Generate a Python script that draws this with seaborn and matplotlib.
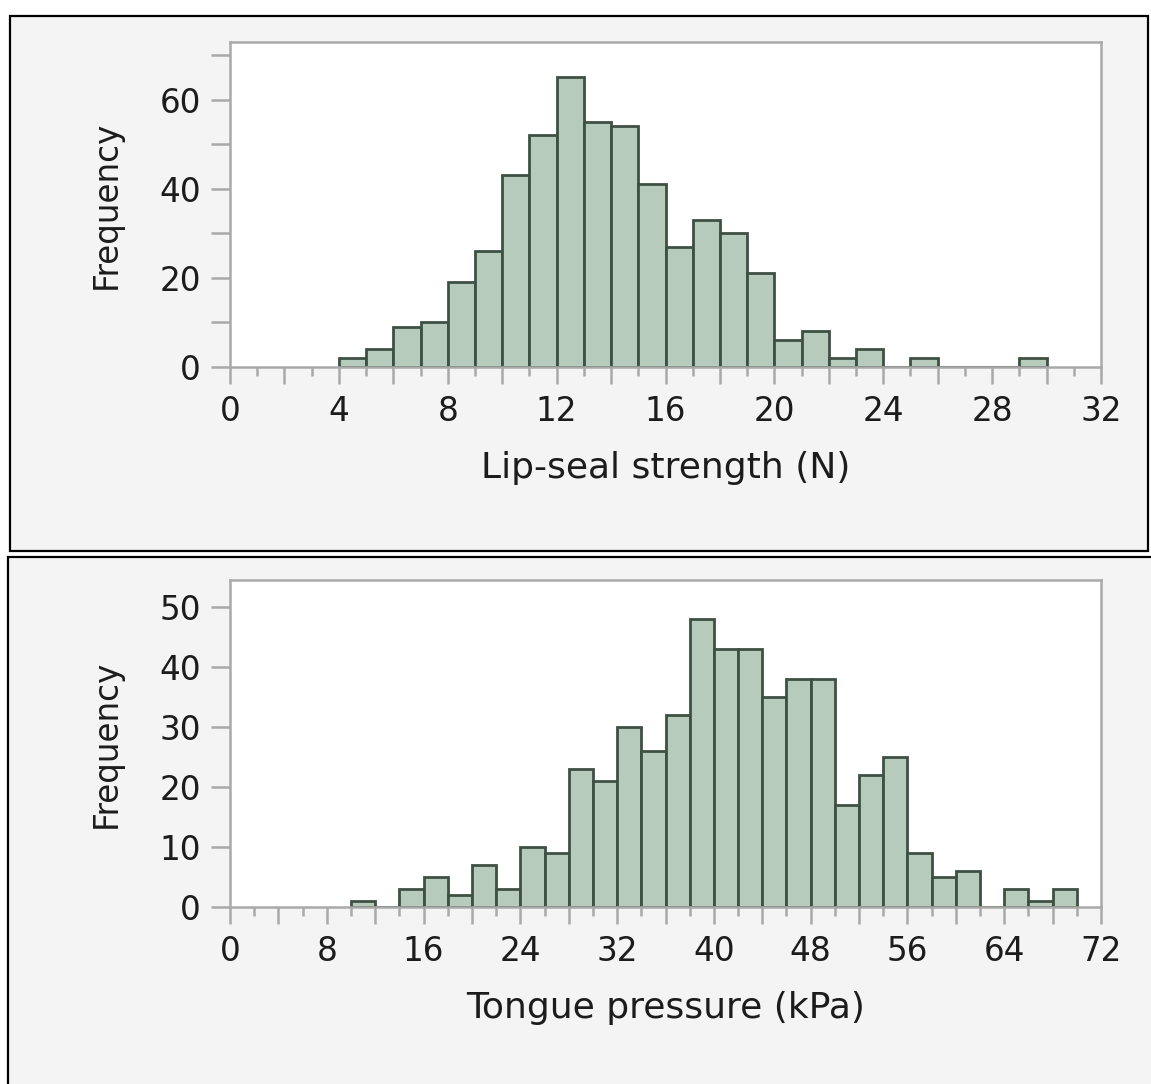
import matplotlib
matplotlib.use("Agg")
import matplotlib.pyplot as plt
import seaborn as sns
from matplotlib.patches import Rectangle
from matplotlib.ticker import MultipleLocator, FuncFormatter

# lip-seal strength histogram (1 N bins)
lip_bins = list(range(4, 30))
lip_counts = [2, 4, 9, 10, 19, 26, 43, 52, 65, 55,
              54, 41, 27, 33, 30, 21, 6, 8, 2, 4,
              0, 2, 0, 0, 0, 2]

# tongue pressure histogram (2 kPa bins)
tongue_bins = list(range(10, 70, 2))
tongue_counts = [1, 0, 3, 5, 2, 7, 3, 10, 9, 23,
                 21, 30, 26, 32, 48, 43, 43, 35, 38, 38,
                 17, 22, 25, 9, 5, 6, 0, 3, 1, 3]

sns.set_style("ticks")
plt.rcParams['font.family'] = ['DejaVu Sans']

bar_face = "#b6cbbb"
bar_edge = "#3e5044"
axis_grey = "#a9a9a9"
text_col = "#1c1c1c"

fig = plt.figure(figsize=(11.51, 10.84), dpi=100)
fig.patch.set_facecolor("white")

# panel frames, behind the axes
fig.patches.append(Rectangle((10 / 1151, 1 - 551 / 1084), 1138 / 1151, 535 / 1084,
                             transform=fig.transFigure, facecolor="#f4f4f4",
                             edgecolor="black", linewidth=1.6, zorder=-10))
fig.patches.append(Rectangle((8 / 1151, -0.01), 1.0, 1 - 557 / 1084 + 0.01,
                             transform=fig.transFigure, facecolor="#f4f4f4",
                             edgecolor="black", linewidth=1.6, zorder=-10))

ax1 = fig.add_axes([230 / 1151, 1 - 367 / 1084, 871 / 1151, 325 / 1084])
ax2 = fig.add_axes([230 / 1151, 1 - 907 / 1084, 871 / 1151, 327 / 1084])


def style_axis(ax):
    ax.set_facecolor("white")
    for s in ax.spines.values():
        s.set_visible(True)
        s.set_color(axis_grey)
        s.set_linewidth(1.8)
    ax.tick_params(axis="both", which="both", color=axis_grey, width=1.8,
                   labelcolor=text_col, labelsize=23.5, direction="out")
    ax.tick_params(axis="x", which="major", length=12, pad=8)
    ax.tick_params(axis="x", which="minor", length=6.5)
    ax.tick_params(axis="y", which="both", length=14, pad=7)


sns.histplot(x=lip_bins, weights=lip_counts, bins=list(range(4, 31)), ax=ax1,
             color=bar_face, edgecolor=bar_edge, linewidth=2.0, alpha=1)
ax1.set_xlim(0, 32)
ax1.set_ylim(0, 72.9)
ax1.xaxis.set_major_locator(MultipleLocator(2))
ax1.xaxis.set_minor_locator(MultipleLocator(1))
ax1.xaxis.set_major_formatter(FuncFormatter(lambda v, p: f"{int(v)}" if int(round(v)) % 4 == 0 else ""))
ax1.yaxis.set_major_locator(MultipleLocator(10))
ax1.yaxis.set_major_formatter(FuncFormatter(lambda v, p: f"{int(v)}" if int(round(v)) % 20 == 0 else ""))
style_axis(ax1)
ax1.set_xlabel("Lip-seal strength (N)", fontsize=26, color=text_col, labelpad=17)
ax1.set_ylabel("Frequency", fontsize=23.5, color=text_col, labelpad=26)

sns.histplot(x=tongue_bins, weights=tongue_counts, bins=list(range(10, 72, 2)), ax=ax2,
             color=bar_face, edgecolor=bar_edge, linewidth=2.0, alpha=1)
ax2.set_xlim(0, 72)
ax2.set_ylim(0, 54.5)
ax2.xaxis.set_major_locator(MultipleLocator(4))
ax2.xaxis.set_minor_locator(MultipleLocator(2))
ax2.xaxis.set_major_formatter(FuncFormatter(lambda v, p: f"{int(v)}" if int(round(v)) % 8 == 0 else ""))
ax2.yaxis.set_major_locator(MultipleLocator(10))
style_axis(ax2)
ax2.set_xlabel("Tongue pressure (kPa)", fontsize=26, color=text_col, labelpad=17)
ax2.set_ylabel("Frequency", fontsize=23.5, color=text_col, labelpad=26)

fig.savefig("out.png", dpi=100)
